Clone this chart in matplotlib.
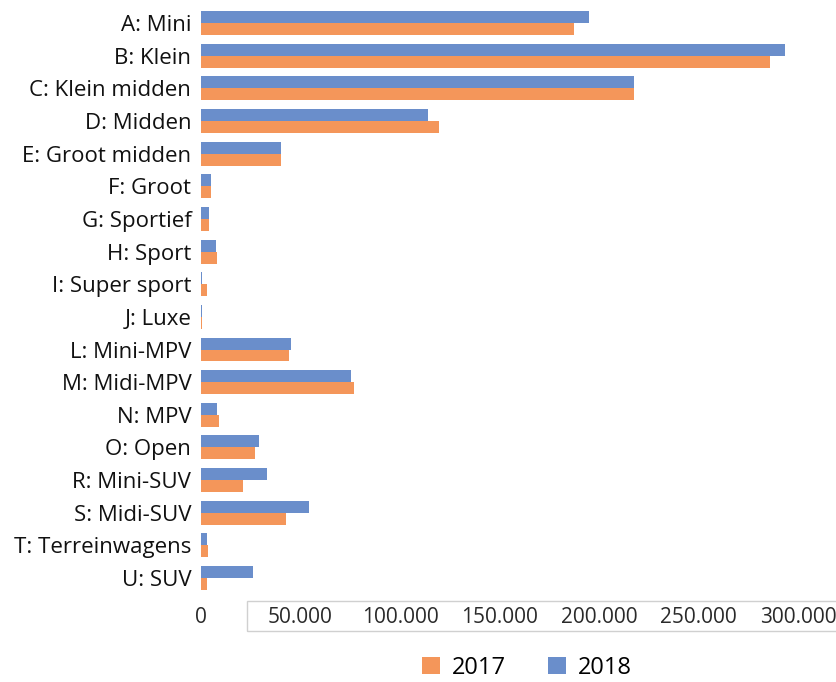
import matplotlib.pyplot as plt
from matplotlib.patches import Rectangle
import numpy as np

plt.rcParams["font.family"] = ["Open Sans", "DejaVu Sans"]

categories = [
    "A: Mini", "B: Klein", "C: Klein midden", "D: Midden", "E: Groot midden",
    "F: Groot", "G: Sportief", "H: Sport", "I: Super sport", "J: Luxe",
    "L: Mini-MPV", "M: Midi-MPV", "N: MPV", "O: Open", "R: Mini-SUV",
    "S: Midi-SUV", "T: Terreinwagens", "U: SUV",
]
sales_2017 = [187500, 286000, 217500, 119500, 40000, 4800, 4200, 8000, 2800, 300,
              44200, 76700, 8900, 27000, 21000, 42500, 3500, 3000]
sales_2018 = [195000, 293500, 217500, 114000, 40000, 5000, 3800, 7700, 600, 400,
              45400, 75500, 7900, 29000, 33000, 54500, 3000, 26000]

tick_values = [0, 50000, 100000, 150000, 200000, 250000, 300000]
tick_labels = ["0", "50.000", "100.000", "150.000", "200.000", "250.000", "300.000"]

orange = "#F4965A"
blue = "#6A8ECB"

fig = plt.figure(figsize=(8.37, 6.82), dpi=100)
ax = fig.add_axes([201 / 837, 0.1286, 1 - 201 / 837, 0.990 - 0.1286])

y = np.arange(len(categories))
h = 0.367
ax.barh(y - h / 2, sales_2018, height=h, color=blue, label="2018")
ax.barh(y + h / 2, sales_2017, height=h, color=orange, label="2017")

ax.set_ylim(len(categories) - 0.5, -0.5)
ax.set_xlim(0, 319600)
ax.set_yticks(y)
ax.set_yticklabels(categories, fontsize=16, color="#111111", fontweight="medium")
ax.set_xticks(tick_values)
ax.set_xticklabels(tick_labels, fontsize=15, color="#2a2a2a")
ax.tick_params(axis="both", length=0)
ax.tick_params(axis="y", pad=7)
ax.tick_params(axis="x", pad=9)
for spine in ax.spines.values():
    spine.set_visible(False)

# thin grey frame around the axis labels
fig.patches.append(Rectangle((247 / 837, 1 - 631 / 682), 600 / 837, 30 / 682,
                             transform=fig.transFigure, fill=False,
                             edgecolor="#d0d0d0", linewidth=1))

handles, labels = ax.get_legend_handles_labels()
fig.legend(handles[::-1], labels[::-1], loc="center",
           bbox_to_anchor=(527 / 837, 1 - 668 / 682), ncol=2, frameon=False,
           fontsize=17, handlelength=0.75, handleheight=0.75, columnspacing=1.8,
           handletextpad=0.5)

fig.savefig("out.png", dpi=100)
